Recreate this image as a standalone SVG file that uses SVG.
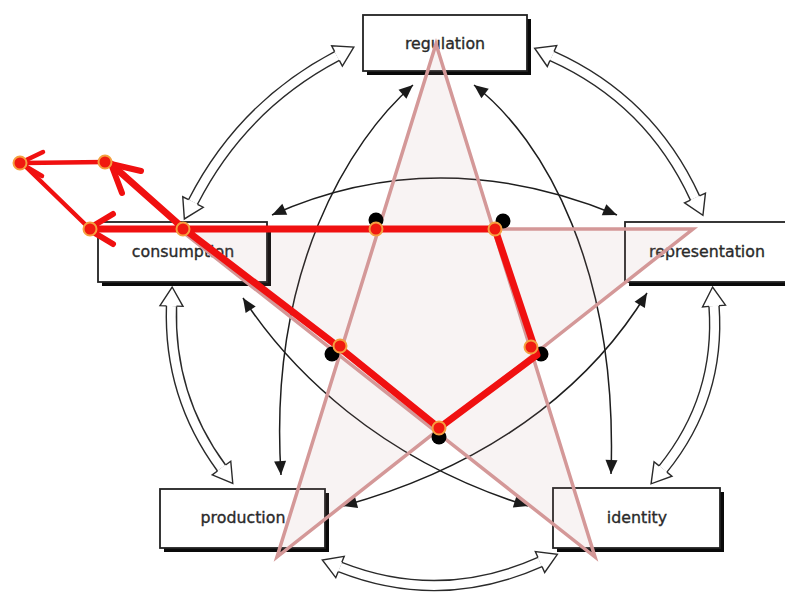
<svg xmlns="http://www.w3.org/2000/svg" width="785" height="592" viewBox="0 0 785 592">
  <defs>
    <style>
      .box { fill: #ffffff; stroke: #222222; stroke-width: 1.8; }
      .shadow { fill: #0a0a0a; }
      .label { font-family: "DejaVu Sans", "Liberation Sans", sans-serif; font-size: 15.8px; fill: #2a2a2a; stroke: #2a2a2a; stroke-width: 0.35; text-anchor: middle; }
      .thin { fill: none; stroke: #1e1e1e; stroke-width: 1.5; marker-start: url(#thinHead); marker-end: url(#thinHead); }
      .wide-outer { fill: none; stroke: #2a2a2a; stroke-width: 11.5; }
      .wide-inner { fill: none; stroke: #ffffff; stroke-width: 8.7; marker-start: url(#hollowHead); marker-end: url(#hollowHead); }
      .star { fill: #b88c8c; fill-opacity: 0.1; stroke: #d49898; stroke-width: 3.5; stroke-linejoin: miter; }
      .route { fill: none; stroke: #f01010; stroke-linecap: round; stroke-linejoin: round; }
      .vertex { fill: #000000; }
      .stop { fill: #f01a10; stroke: #f5a040; stroke-width: 2; }
    </style>
    <marker id="thinHead" viewBox="-15 -7 17 14" refX="0" refY="0" markerWidth="17" markerHeight="14" markerUnits="userSpaceOnUse" orient="auto-start-reverse">
      <path d="M0,0 L-14,-6 L-14,6 Z" fill="#1a1a1a"/>
    </marker>
    <marker id="hollowHead" viewBox="-2 -14 24 28" refX="0" refY="0" markerWidth="24" markerHeight="28" markerUnits="userSpaceOnUse" orient="auto-start-reverse">
      <path d="M0,-5 L0,-11.5 L19,0 L0,11.5 L0,5" fill="#ffffff" stroke="#2a2a2a" stroke-width="1.4"/>
    </marker>
  </defs>

  <rect width="785" height="592" fill="#ffffff"/>

  <g id="connectors">
    <!-- thin arcs between non-adjacent concepts -->
    <path class="thin" d="M413,85 C350,140 268,270 281,475"/>
    <path class="thin" d="M474,85 C545,140 618,270 611,474"/>
    <path class="thin" d="M272,215 Q437,141 617,215"/>
    <path class="thin" d="M243,298 C290,370 380,460 528,506"/>
    <path class="thin" d="M647,293 C600,370 510,460 343,506"/>

    <!-- hollow double arrows around the circuit -->
    <path class="wide-outer" d="M337,56 Q242,106 193,202"/>
    <path class="wide-inner" d="M337,56 Q242,106 193,202"/>
    <path class="wide-outer" d="M552,56 Q650,100 695,198"/>
    <path class="wide-inner" d="M552,56 Q650,100 695,198"/>
    <path class="wide-outer" d="M171.5,306 Q168.5,396 221.5,468"/>
    <path class="wide-inner" d="M171.5,306 Q168.5,396 221.5,468"/>
    <path class="wide-outer" d="M714,306 Q720.7,397.5 663,469"/>
    <path class="wide-inner" d="M714,306 Q720.7,397.5 663,469"/>
    <path class="wide-outer" d="M340,567 Q440,606.5 540,562"/>
    <path class="wide-inner" d="M340,567 Q440,606.5 540,562"/>
  </g>

  <g id="regulation">
    <rect class="shadow" x="367" y="19" width="164" height="56"/>
    <rect class="box" x="363" y="15" width="164" height="56"/>
    <text class="label" x="445" y="49">regulation</text>
  </g>
  <g id="consumption">
    <rect class="shadow" x="102" y="226" width="169" height="60"/>
    <rect class="box" x="98" y="222" width="169" height="60"/>
    <text class="label" x="183" y="257">consumption</text>
  </g>
  <g id="representation">
    <rect class="shadow" x="629" y="226" width="170" height="60"/>
    <rect class="box" x="625" y="222" width="170" height="60"/>
    <text class="label" x="707" y="257">representation</text>
  </g>
  <g id="production">
    <rect class="shadow" x="164" y="493" width="165" height="59"/>
    <rect class="box" x="160" y="489" width="165" height="59"/>
    <text class="label" x="243" y="523">production</text>
  </g>
  <g id="identity">
    <rect class="shadow" x="557" y="492" width="167" height="60"/>
    <rect class="box" x="553" y="488" width="167" height="60"/>
    <text class="label" x="637" y="523">identity</text>
  </g>

  <!-- pentagram overlay -->
  <g id="pentagram">
    <path class="star" d="M436,44 L595,557 L179,229 L693,229 L277,557 Z"/>
  </g>

  <!-- inner pentagon vertices -->
  <g id="vertices">
    <circle class="vertex" cx="376" cy="220" r="7.5"/>
    <circle class="vertex" cx="503" cy="221" r="7.5"/>
    <circle class="vertex" cx="541" cy="354" r="7.5"/>
    <circle class="vertex" cx="332" cy="354" r="7.5"/>
    <circle class="vertex" cx="439" cy="437" r="7.5"/>
  </g>

  <!-- red route -->
  <g id="route">
    <polyline class="route" stroke-width="4.5" points="105,162 22,163"/>
    <polyline class="route" stroke-width="4.5" points="90,229 22,163"/>
    <polyline class="route" stroke-width="4.5" points="43,152 20,163 42,176"/>
    <polyline class="route" stroke-width="7" points="88,229 495,229 537,355 439,428 340,348 183,228 111,164"/>
    <polyline class="route" stroke-width="6" points="113,214 88,229 113,244"/>
    <polyline class="route" stroke-width="6" points="141,171 111,164 122,193"/>
  </g>

  <g id="stops">
    <circle class="stop" cx="20" cy="163" r="6.5"/>
    <circle class="stop" cx="105" cy="162" r="6.5"/>
    <circle class="stop" cx="90" cy="229" r="6.5"/>
    <circle class="stop" cx="183" cy="229" r="6.5"/>
    <circle class="stop" cx="376" cy="229" r="6.5"/>
    <circle class="stop" cx="495" cy="229" r="6.5"/>
    <circle class="stop" cx="531" cy="347" r="6.5"/>
    <circle class="stop" cx="340" cy="346" r="6.5"/>
    <circle class="stop" cx="439" cy="428" r="6.5"/>
  </g>
</svg>
